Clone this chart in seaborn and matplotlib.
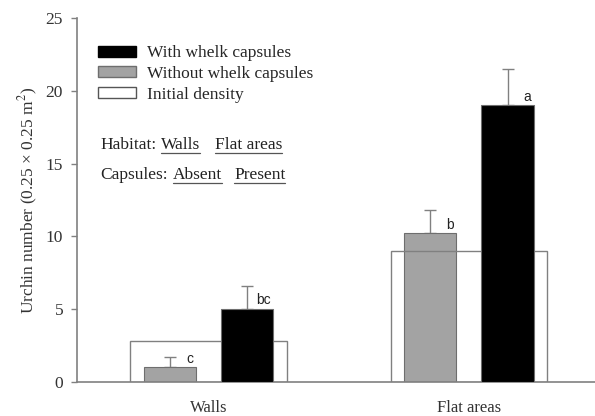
import numpy as np
import pandas as pd
import seaborn as sns
import matplotlib.pyplot as plt
from matplotlib.patches import Patch

# data
habitats = ["Walls", "Flat areas"]
with_mean = [5.0, 19.0]          # with whelk capsules
with_se = [1.6, 2.5]
without_mean = [1.0, 10.2]       # without whelk capsules
without_se = [0.7, 1.6]
initial = [2.8, 9.0]             # initial density
letters_without = ["c", "b"]
letters_with = ["bc", "a"]

GRAY = "#a3a3a3"
AXC = "#808080"
FS = 12.5

sns.set_style("white")
plt.rcParams['font.family'] = ['Liberation Serif', 'DejaVu Serif']
plt.rcParams['mathtext.fontset'] = 'stix'

df = pd.DataFrame({
    "habitat": habitats * 2,
    "treatment": ["Without"] * 2 + ["With"] * 2,
    "urchins": without_mean + with_mean,
})
df_init = pd.DataFrame({"habitat": habitats, "urchins": initial})

fig = plt.figure(figsize=(5.95, 4.16), dpi=100)
ax = fig.add_axes([77 / 595, 1 - 382 / 416, 1 - 77 / 595, (382 - 18) / 416])

sns.barplot(data=df, x="habitat", y="urchins", hue="treatment",
            hue_order=["Without", "With"], order=habitats,
            palette={"Without": GRAY, "With": "black"},
            width=0.593, gap=0.325, errorbar=None, legend=False,
            edgecolor="#6e6e6e", linewidth=0.8, ax=ax)
sns.barplot(data=df_init, x="habitat", y="urchins", order=habitats,
            width=0.6, fill=False, errorbar=None,
            edgecolor=AXC, linewidth=1.0, ax=ax)

c_without, c_with, c_init = ax.containers[0], ax.containers[1], ax.containers[2]
for p in c_without:
    p.set_zorder(1.5)
for p in c_init:
    p.set_zorder(2)
    p.set_edgecolor(AXC)
for p in c_with:
    p.set_zorder(3)

# error bars (upper only) and significance letters
for cont, means, ses, lets in [(c_without, without_mean, without_se, letters_without),
                               (c_with, with_mean, with_se, letters_with)]:
    for p, m, s, l in zip(cont, means, ses, lets):
        xc = p.get_x() + p.get_width() / 2
        ax.errorbar(xc, m, yerr=[[0], [s]], color=AXC, capsize=4,
                    elinewidth=1, capthick=1, zorder=1)
        ax.text(p.get_x() + p.get_width() - 0.01, m + 0.12, l,
                ha="right", va="bottom", fontsize=10,
                family=['Liberation Sans', 'DejaVu Sans'], color="#222222")

ax.set_xlim(-0.505, 1.484)
ax.set_ylim(0, 25)
ax.set_yticks(range(0, 26, 5))
ax.set_xlabel("")
ax.set_ylabel("Urchin number (0.25 × 0.25 m$^2$)", fontsize=FS, color="#333333",
              labelpad=4)
ax.tick_params(axis="y", direction="out", length=4, width=1, color=AXC,
               labelsize=FS, labelcolor="#333333", left=True, pad=6)
ax.tick_params(axis="x", length=0, labelsize=FS - 0.5, labelcolor="#333333", pad=13)
sns.despine(ax=ax)
for side in ["left", "bottom"]:
    ax.spines[side].set_color(AXC)
    ax.spines[side].set_linewidth(1.2)

handles = [Patch(facecolor="black", edgecolor="black", label="With whelk capsules"),
           Patch(facecolor=GRAY, edgecolor="#6e6e6e", label="Without whelk capsules"),
           Patch(facecolor="white", edgecolor="#555555", label="Initial density")]
ax.legend(handles=handles, loc="upper left", bbox_to_anchor=(0.04, 0.925),
          frameon=False, fontsize=FS, handlelength=2.2, handleheight=0.6,
          handletextpad=0.65, labelspacing=0.27, borderpad=0, borderaxespad=0)

# habitat / capsules key with underlined words
fig.canvas.draw()
renderer = fig.canvas.get_renderer()


def px(x, y):
    return x / 595, 1 - y / 416


def key_line(parts, y):
    for x, s, under in parts:
        t = fig.text(*px(x, y), s, fontsize=FS, va="center", color="#222222")
        if under:
            bb = t.get_window_extent(renderer)
            fig.add_artist(plt.Line2D([bb.x0 / 595, bb.x1 / 595],
                                      [1 - (y + 7.5) / 416] * 2, color="#555555", lw=0.9))


key_line([(100, "Habitat:", False), (161, "Walls", True), (215, "Flat areas", True)], 145)
key_line([(100, "Capsules:", False), (173, "Absent", True), (234, "Present", True)], 175)

fig.savefig("out.png", dpi=100)
